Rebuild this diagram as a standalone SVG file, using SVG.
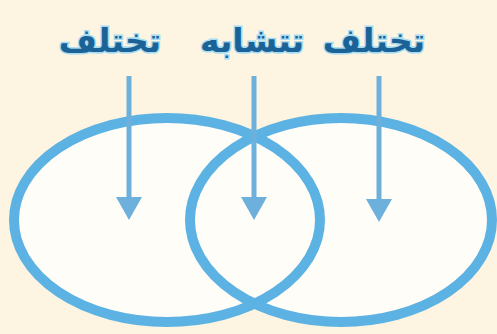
<svg xmlns="http://www.w3.org/2000/svg" width="497" height="334" viewBox="0 0 497 334">
<style>
.lbl{font-family:"DejaVu Sans","Noto Sans",sans-serif;font-weight:bold;font-size:33px;fill:#1b6396;stroke:#a8dcf2;stroke-width:3;paint-order:stroke;text-anchor:middle}
.fill{fill:#fffdf8;stroke:none}
.ell{fill:none;stroke:#5cb3e3;stroke-width:10}
.arr{stroke:#6eb0dc;stroke-width:5;fill:none}
.head{fill:#6eb0dc}
</style>
<rect width="497" height="334" fill="#fdf4e1"/>
<g id="set-fills">
<ellipse class="fill" cx="167" cy="220" rx="153" ry="102"/>
<ellipse class="fill" cx="341" cy="220" rx="151" ry="102"/>
</g>
<g id="left-set"><ellipse class="ell" cx="167" cy="220" rx="153" ry="102"/></g>
<g id="right-set"><ellipse class="ell" cx="341" cy="220" rx="151" ry="102"/></g>
<g id="label-left"><text class="lbl" x="110" y="52">تختلف</text></g>
<g id="label-middle"><text class="lbl" x="252" y="52">تتشابه</text></g>
<g id="label-right"><text class="lbl" x="374" y="52">تختلف</text></g>
<g id="connectors">
<line class="arr" x1="129" y1="76" x2="129" y2="200"/>
<polygon class="head" points="116,197 142,197 129,220"/>
<line class="arr" x1="254" y1="76" x2="254" y2="200"/>
<polygon class="head" points="241,197 267,197 254,220"/>
<line class="arr" x1="379" y1="76" x2="379" y2="200"/>
<polygon class="head" points="366,199 392,199 379,222"/>
</g>
</svg>
